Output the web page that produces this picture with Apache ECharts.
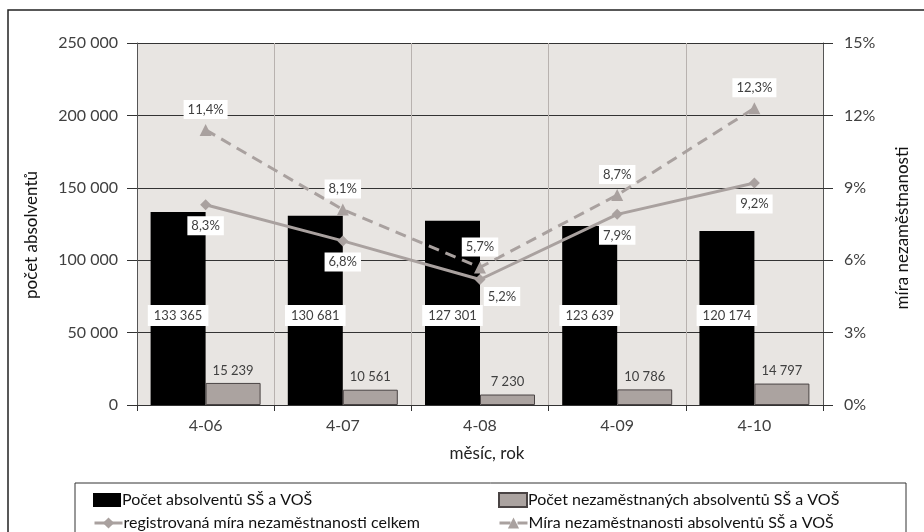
<!DOCTYPE html>
<html>
<head>
<meta charset="utf-8">
<script src="https://cdn.jsdelivr.net/npm/echarts@6/dist/echarts.min.js"></script>
<style>
html,body{margin:0;padding:0;background:#fff;}
#c{width:924px;height:532px;}
</style>
</head>
<body>
<div id="c"></div>
<script>
const categories = ['4-06', '4-07', '4-08', '4-09', '4-10'];
const graduates = [133365, 130681, 127301, 123639, 120174];
const unemployedGraduates = [15239, 10561, 7230, 10786, 14797];
const rateTotal = [8.3, 6.8, 5.2, 7.9, 9.2];
const rateGraduates = [11.4, 8.1, 5.7, 8.7, 12.3];
const leftTicks = [0, 50000, 100000, 150000, 200000, 250000];
const rightTicks = [0, 3, 6, 9, 12, 15];
const seriesNames = [
  'Počet absolventů SŠ a VOŠ',
  'Počet nezaměstnaných absolventů SŠ a VOŠ',
  'registrovaná míra nezaměstnanosti celkem',
  'Míra nezaměstnanosti absolventů SŠ a VOŠ'
];
const xTitle = 'měsíc, rok';
const leftTitle = 'počet absolventů';
const rightTitle = 'míra nezaměstnanosti';

const FONT = 'Lato';
const fmtNum = v => String(v).replace(/\B(?=(\d{3})+(?!\d))/g, ' ');
const fmtPct = v => v.toFixed(1).replace('.', ',') + '%';
const lineColor = '#A9A19F';
const labelBox = {
  backgroundColor: '#fff', color: '#404040', fontFamily: FONT, fontSize: 13, padding: [3, 4]
};
const legendPos = [[88, 487], [493, 487], [88, 510], [493, 510]];
const legendIcons = ['rect', 'rect', undefined, undefined];
const legends = seriesNames.map((n, i) => {
  const l = {
    orient: 'horizontal', left: legendPos[i][0], top: legendPos[i][1],
    itemWidth: 28, itemHeight: 14, itemGap: 0,
    textStyle: {fontFamily: FONT, fontSize: 16, color: '#111', padding: [0, 0, 0, -4]},
    lineStyle: {width: 3},
    data: [n]
  };
  if (legendIcons[i]) l.icon = legendIcons[i];
  return l;
});

const chart = echarts.init(document.getElementById('c'), null, {renderer: 'canvas'});
chart.setOption({
  animation: false,
  backgroundColor: '#fff',
  textStyle: {fontFamily: FONT},
  grid: {left: 137, right: 101, top: 43, bottom: 127, show: true, backgroundColor: '#E8E5E2', borderWidth: 0},
  graphic: [
    {type: 'rect', shape: {x: 8, y: 10, width: 930, height: 540}, style: {fill: 'none', stroke: '#222', lineWidth: 1.5}, z: -1},
    {type: 'rect', shape: {x: 75, y: 483, width: 831, height: 60}, style: {fill: 'none', stroke: '#333', lineWidth: 1}, z: -1},
    {type: 'text', x: 487, y: 454, style: {text: xTitle, font: '17px ' + FONT, fill: '#222', align: 'center', verticalAlign: 'middle'}},
    {type: 'text', x: 32, y: 235, rotation: Math.PI / 2, style: {text: leftTitle, font: '17px ' + FONT, fill: '#111', align: 'center', verticalAlign: 'middle'}},
    {type: 'text', x: 903, y: 228, rotation: Math.PI / 2, style: {text: rightTitle, font: '17px ' + FONT, fill: '#111', align: 'center', verticalAlign: 'middle'}}
  ],
  legend: legends,
  xAxis: {
    type: 'category', data: categories, boundaryGap: true,
    axisLine: {lineStyle: {color: '#333', width: 1}},
    axisTick: {show: true, length: 6, lineStyle: {color: '#333'}},
    axisLabel: {fontFamily: FONT, fontSize: 16, color: '#404040', margin: 13},
    splitLine: {show: true, lineStyle: {color: '#B8B2AF', width: 1}}
  },
  yAxis: [
    {
      type: 'value', min: 0, max: 250000, interval: 50000,
      axisLine: {show: true, lineStyle: {color: '#555', width: 1}},
      axisTick: {show: true, length: 10, lineStyle: {color: '#333'}},
      axisLabel: {fontFamily: FONT, fontSize: 16, color: '#404040', margin: 19,
        formatter: v => leftTicks.includes(v) ? fmtNum(v) : ''},
      splitLine: {show: true, lineStyle: {color: '#333', width: 1}}
    },
    {
      type: 'value', min: 0, max: 15, interval: 3,
      axisLine: {show: true, lineStyle: {color: '#555', width: 1}},
      axisTick: {show: true, length: 10, lineStyle: {color: '#333'}},
      axisLabel: {fontFamily: FONT, fontSize: 16, color: '#404040', margin: 21,
        formatter: v => rightTicks.includes(v) ? v + '%' : ''},
      splitLine: {show: false}
    }
  ],
  series: [
    {
      name: seriesNames[0], type: 'bar', data: graduates,
      barWidth: 55, barGap: '0%',
      itemStyle: {color: '#000'},
      label: Object.assign({show: true, position: 'insideBottom', distance: 79, formatter: p => fmtNum(p.value)}, labelBox, {padding: [4, 6]}),
      z: 2
    },
    {
      name: seriesNames[1], type: 'bar', data: unemployedGraduates,
      barWidth: 55, barGap: '0%',
      itemStyle: {color: '#ABA3A0', borderColor: '#4A4444', borderWidth: 1},
      label: {show: true, position: 'top', distance: 6, color: '#404040', fontFamily: FONT, fontSize: 13,
        formatter: p => fmtNum(p.value)},
      z: 2
    },
    {
      name: seriesNames[2], type: 'line', yAxisIndex: 1, data: rateTotal.map((v, i) => ({
        value: v,
        label: i === 2 ? {offset: [22, -4]} : {}
      })),
      symbol: 'diamond', symbolSize: 11,
      lineStyle: {color: lineColor, width: 3},
      itemStyle: {color: lineColor},
      label: Object.assign({show: true, position: 'bottom', distance: 6, formatter: p => fmtPct(p.value)}, labelBox),
      z: 5
    },
    {
      name: seriesNames[3], type: 'line', yAxisIndex: 1, data: rateGraduates,
      symbol: 'triangle', symbolSize: 12,
      lineStyle: {color: lineColor, width: 3, type: [11, 7]},
      itemStyle: {color: lineColor},
      label: Object.assign({show: true, position: 'top', distance: 5, formatter: p => fmtPct(p.value)}, labelBox),
      z: 5
    }
  ]
});
</script>
</body>
</html>
